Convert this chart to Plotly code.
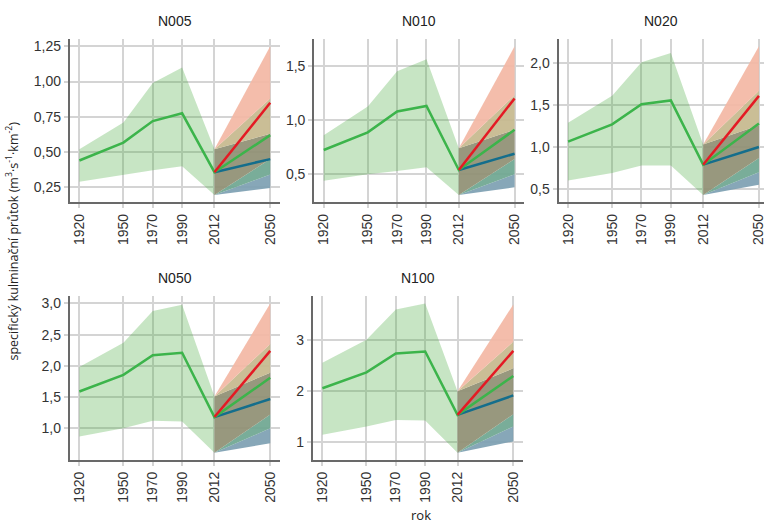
import plotly.graph_objects as go

# ---------------- data ----------------
years_hist = [1920, 1950, 1970, 1990, 2012]
years_future = [2012, 2050]
panel_names = ["N005", "N010", "N020", "N050", "N100"]

# historical median / lower / upper
N005_median = [0.44, 0.567, 0.72, 0.775, 0.357]
N005_lower = [0.29, 0.34, 0.37, 0.40, 0.196]
N005_upper = [0.52, 0.71, 0.99, 1.10, 0.52]
N010_median = [0.724, 0.887, 1.08, 1.13, 0.54]
N010_lower = [0.44, 0.50, 0.53, 0.565, 0.31]
N010_upper = [0.86, 1.125, 1.45, 1.56, 0.74]
N020_median = [1.064, 1.27, 1.51, 1.555, 0.79]
N020_lower = [0.60, 0.69, 0.78, 0.78, 0.43]
N020_upper = [1.29, 1.61, 2.01, 2.12, 1.03]
N050_median = [1.59, 1.855, 2.17, 2.21, 1.18]
N050_lower = [0.87, 1.00, 1.12, 1.11, 0.61]
N050_upper = [1.98, 2.37, 2.88, 2.98, 1.51]
N100_median = [2.05, 2.36, 2.73, 2.77, 1.53]
N100_lower = [1.14, 1.30, 1.43, 1.42, 0.79]
N100_upper = [2.55, 3.00, 3.59, 3.71, 1.99]

# 2050 scenarios: [lower, median, upper]
N005_red = [0.45, 0.85, 1.25]
N005_green = [0.34, 0.62, 0.88]
N005_blue = [0.245, 0.45, 0.63]
N010_red = [0.64, 1.20, 1.68]
N010_green = [0.50, 0.91, 1.23]
N010_blue = [0.38, 0.69, 0.91]
N020_red = [0.87, 1.61, 2.20]
N020_green = [0.70, 1.28, 1.67]
N020_blue = [0.55, 1.00, 1.26]
N050_red = [1.22, 2.24, 3.00]
N050_green = [1.00, 1.81, 2.35]
N050_blue = [0.76, 1.47, 1.89]
N100_red = [1.54, 2.78, 3.69]
N100_green = [1.30, 2.29, 2.96]
N100_blue = [1.01, 1.91, 2.44]

# y tick labels per panel
N005_ticks = [0.25, 0.50, 0.75, 1.00, 1.25]
N010_ticks = [0.5, 1.0, 1.5]
N020_ticks = [0.5, 1.0, 1.5, 2.0]
N050_ticks = [1.0, 1.5, 2.0, 2.5, 3.0]
N100_ticks = [1, 2, 3]
tick_formats = [".2f", ".1f", ".1f", ".1f", "d"]

panels = [
    (N005_median, N005_lower, N005_upper, N005_red, N005_green, N005_blue, N005_ticks),
    (N010_median, N010_lower, N010_upper, N010_red, N010_green, N010_blue, N010_ticks),
    (N020_median, N020_lower, N020_upper, N020_red, N020_green, N020_blue, N020_ticks),
    (N050_median, N050_lower, N050_upper, N050_red, N050_green, N050_blue, N050_ticks),
    (N100_median, N100_lower, N100_upper, N100_red, N100_green, N100_blue, N100_ticks),
]

# ---------------- layout geometry ----------------
W, H = 766, 524
# pixel boxes: (left, right, top, bottom)
boxes = [
    (70, 280.5, 38, 201.7),
    (315, 525, 38, 201.7),
    (560, 766, 38, 201.7),
    (70, 280.5, 295.5, 460),
    (313.7, 524.2, 295.5, 460),
]

HIST_FILL = "rgba(70,170,60,0.30)"
# colours of the overlap regions of the three scenario ribbons (as seen)
BLUE_ONLY = "rgba(125,160,178,0.92)"
TEAL = "rgba(110,166,144,0.92)"
GREY = "rgba(143,143,115,0.92)"
OLIVE = "rgba(198,184,141,0.92)"
SALMON = "rgba(243,183,164,0.92)"
GREEN_LINE = "rgb(60,180,75)"
RED_LINE = "rgb(228,26,36)"
BLUE_LINE = "rgb(20,110,140)"

TICK_FONT = dict(family="Liberation Sans, Arial, sans-serif", size=14, color="#333333")

fig = go.Figure()
layout = dict(
    width=W, height=H, margin=dict(l=0, r=0, t=0, b=0),
    paper_bgcolor="white", plot_bgcolor="white",
    showlegend=False, separators=", ",
)
annotations = []

x0, x1 = min(years_hist), max(years_future)
xpad = (x1 - x0) * 0.05

for i, (med, lo, hi, red, green, blue, ticks) in enumerate(panels):
    k = "" if i == 0 else str(i + 1)
    xa, ya = "x" + k, "y" + k
    # historical ribbon
    fig.add_trace(go.Scatter(
        x=years_hist + years_hist[::-1], y=lo + hi[::-1], xaxis=xa, yaxis=ya,
        fill="toself", fillcolor=HIST_FILL, line=dict(width=0), mode="lines",
        hoverinfo="skip"))
    # scenario ribbons: all start from the 2012 band; overlapping parts drawn as bands
    bounds = [
        (lo[-1], blue[0]), (lo[-1], green[0]), (lo[-1], red[0]),
        (hi[-1], blue[2]), (hi[-1], green[2]), (hi[-1], red[2]),
    ]
    region_cols = [BLUE_ONLY, TEAL, GREY, OLIVE, SALMON]
    for j, col in enumerate(region_cols):
        a, b = bounds[j], bounds[j + 1]
        fig.add_trace(go.Scatter(
            x=years_future + years_future[::-1],
            y=[a[0], a[1], b[1], b[0]],
            xaxis=xa, yaxis=ya, fill="toself", fillcolor=col,
            line=dict(width=0), mode="lines", hoverinfo="skip"))
    # lines
    fig.add_trace(go.Scatter(x=years_future, y=[med[-1], blue[1]], xaxis=xa, yaxis=ya,
                             mode="lines", line=dict(color=BLUE_LINE, width=2.5)))
    fig.add_trace(go.Scatter(x=years_hist + [years_future[-1]], y=med + [green[1]],
                             xaxis=xa, yaxis=ya, mode="lines",
                             line=dict(color=GREEN_LINE, width=2.5)))
    fig.add_trace(go.Scatter(x=years_future, y=[med[-1], red[1]], xaxis=xa, yaxis=ya,
                             mode="lines", line=dict(color=RED_LINE, width=2.5)))

    ymin = min(lo + [red[0], green[0], blue[0]])
    ymax = max(hi + [red[2], green[2], blue[2]])
    ypad = (ymax - ymin) * 0.05

    l, r, t, b = boxes[i]
    xr_end = x0 - xpad + (x1 - x0 + 2 * xpad) * (r - l) / 210.5
    xdom = [l / W, r / W]
    ydom = [(H - b) / H, (H - t) / H]

    layout["xaxis" + k] = dict(
        domain=xdom, anchor=ya, range=[x0 - xpad, xr_end],
        tickmode="array", tickvals=years_hist + [years_future[-1]],
        tickangle=-90, tickfont=TICK_FONT, ticklabeloverflow="allow",
        showgrid=True, gridcolor="rgb(212,212,212)", gridwidth=2,
        showline=True, linecolor="rgb(105,105,105)", linewidth=2,
        ticks="outside", ticklen=4, tickwidth=2, tickcolor="rgb(212,212,212)",
        zeroline=False, fixedrange=True)
    layout["yaxis" + k] = dict(
        domain=ydom, anchor=xa, range=[ymin - ypad, ymax + ypad],
        tickmode="array", tickvals=ticks, tickformat=tick_formats[i],
        tickfont=TICK_FONT,
        showgrid=True, gridcolor="rgb(212,212,212)", gridwidth=2,
        showline=True, linecolor="rgb(105,105,105)", linewidth=2,
        ticks="outside", ticklen=4, tickwidth=2, tickcolor="rgb(212,212,212)",
        zeroline=False, fixedrange=True)

    annotations.append(dict(
        text=panel_names[i], x=(xdom[0] + xdom[1]) / 2, y=(H - (t - 18)) / H,
        xref="paper", yref="paper", showarrow=False, xanchor="center", yanchor="middle",
        font=dict(family="Liberation Sans, Arial, sans-serif", size=14, color="#222222")))

annotations.append(dict(
    text="specifický kulminační průtok (m<sup>3</sup>·s<sup>-1</sup>·km<sup>-2</sup>)",
    x=12 / W, y=(H - 240) / H, xref="paper", yref="paper", showarrow=False,
    textangle=-90, xanchor="center", yanchor="middle",
    font=dict(family="Open Sans, sans-serif", size=12.5, color="#222222")))
annotations.append(dict(
    text="rok", x=422 / W, y=(H - 515) / H, xref="paper", yref="paper",
    showarrow=False, xanchor="center", yanchor="middle",
    font=dict(family="Open Sans, sans-serif", size=13, color="#222222")))

layout["annotations"] = annotations
fig.update_layout(**layout)
fig.write_html("out.html")
